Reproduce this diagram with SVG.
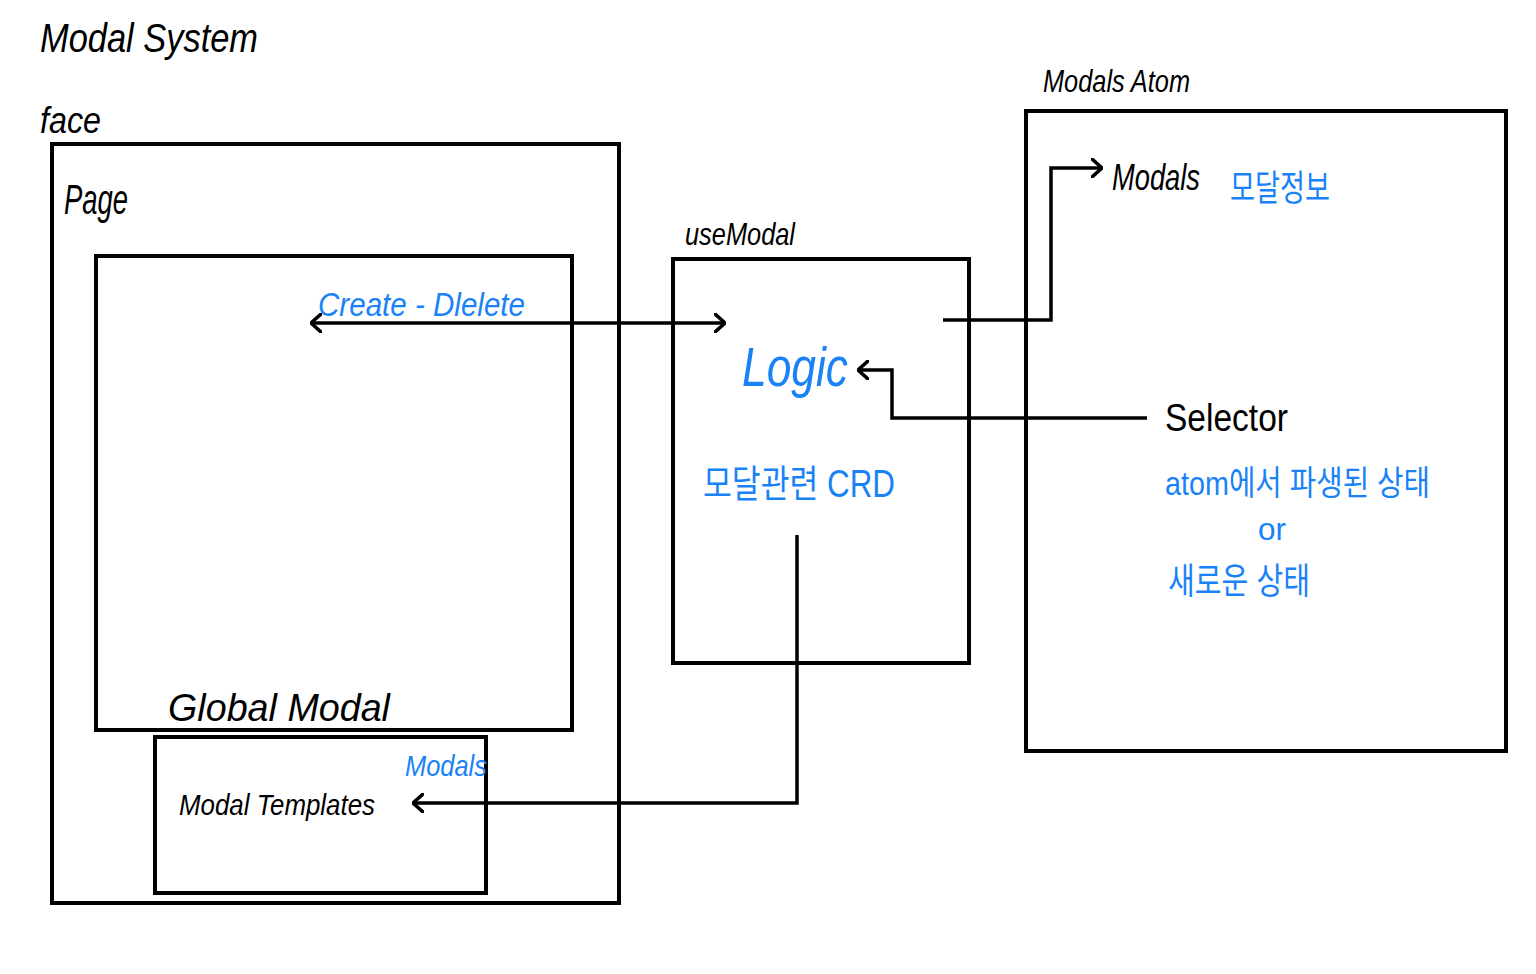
<svg xmlns="http://www.w3.org/2000/svg" width="1536" height="974" viewBox="0 0 1536 974">
<style>
.box{fill:none;stroke:#000;stroke-width:4}
.ln{fill:none;stroke:#000;stroke-width:3.5;stroke-linejoin:miter}
.k{font-family:"Liberation Sans","Noto Sans CJK KR",sans-serif;fill:#000}
.b{font-family:"Liberation Sans","Noto Sans CJK KR",sans-serif;fill:#1a82f7}
</style>
<defs>
<marker id="ah" viewBox="0 0 12 20" refX="11" refY="10" markerWidth="12" markerHeight="20" markerUnits="userSpaceOnUse" orient="auto-start-reverse">
<path d="M1,1 L11,10 L1,19" fill="none" stroke="#000" stroke-width="3.5" stroke-linecap="round"/>
</marker>
</defs>
<rect width="1536" height="974" fill="#fff"/>
<text class="k" x="40" y="52" font-size="40" font-style="italic" textLength="218" lengthAdjust="spacingAndGlyphs">Modal System</text>

<g id="face">
<text class="k" x="40" y="133" font-size="36" font-style="italic" textLength="61" lengthAdjust="spacingAndGlyphs">face</text>
<rect class="box" x="52" y="144" width="567" height="759"/>
</g>
<g id="page">
<text class="k" x="64" y="214" font-size="42" font-style="italic" textLength="64" lengthAdjust="spacingAndGlyphs">Page</text>
<rect class="box" x="96" y="256" width="476" height="474"/>
<text class="k" x="168" y="721" font-size="38" font-style="italic" textLength="222" lengthAdjust="spacingAndGlyphs">Global Modal</text>
</g>
<g id="modal-templates">
<rect class="box" x="155" y="737" width="331" height="156"/>
<text class="k" x="179" y="815" font-size="30" font-style="italic" textLength="196" lengthAdjust="spacingAndGlyphs">Modal Templates</text>
<text class="b" x="405" y="776" font-size="30" font-style="italic" textLength="82" lengthAdjust="spacingAndGlyphs">Modals</text>
</g>
<g id="usemodal">
<text class="k" x="685" y="245" font-size="32" font-style="italic" textLength="110" lengthAdjust="spacingAndGlyphs">useModal</text>
<rect class="box" x="673" y="259" width="296" height="404"/>
<text class="b" x="742" y="386" font-size="56" font-style="italic" textLength="106" lengthAdjust="spacingAndGlyphs">Logic</text>
<text class="b" x="703" y="497" font-size="38" textLength="192" lengthAdjust="spacingAndGlyphs">모달관련 CRD</text>
</g>
<g id="modals-atom">
<text class="k" x="1043" y="92" font-size="32" font-style="italic" textLength="147" lengthAdjust="spacingAndGlyphs">Modals Atom</text>
<rect class="box" x="1026" y="111" width="480" height="640"/>
<text class="k" x="1112" y="190" font-size="36" font-style="italic" textLength="88" lengthAdjust="spacingAndGlyphs">Modals</text>
<text class="b" x="1230" y="201" font-size="36" textLength="100" lengthAdjust="spacingAndGlyphs">모달정보</text>
<text class="k" x="1165" y="431" font-size="38" textLength="123" lengthAdjust="spacingAndGlyphs">Selector</text>
<text class="b" x="1165" y="495" font-size="34" textLength="265" lengthAdjust="spacingAndGlyphs">atom에서 파생된 상태</text>
<text class="b" x="1258" y="540" font-size="32" textLength="28" lengthAdjust="spacingAndGlyphs">or</text>
<text class="b" x="1168" y="594" font-size="36" textLength="142" lengthAdjust="spacingAndGlyphs">새로운 상태</text>
</g>
<g id="connectors">
<path class="ln" d="M311,323 L725,323" marker-start="url(#ah)" marker-end="url(#ah)"/>
<text class="b" x="318" y="316" font-size="34" font-style="italic" textLength="207" lengthAdjust="spacingAndGlyphs">Create - Dlelete</text>
<path class="ln" d="M943,320 L1051,320 L1051,168 L1102,168" marker-end="url(#ah)"/>
<path class="ln" d="M1147,418 L892,418 L892,370 L858,370" marker-end="url(#ah)"/>
<path class="ln" d="M797,535 L797,803 L413,803" marker-end="url(#ah)"/>
</g>
</svg>
